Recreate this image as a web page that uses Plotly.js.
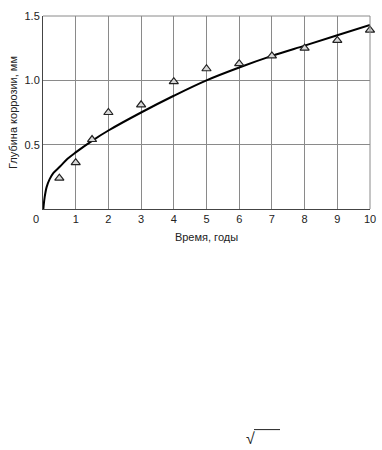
<!DOCTYPE html>
<html><head><meta charset="utf-8">
<script src="https://cdn.plot.ly/plotly-3.0.1.min.js"></script>
<style>html,body{margin:0;padding:0;background:#fff;}#chart{width:382px;height:450px;}</style>
</head><body><div id="chart"></div>
<script>
// Fitted curve
const curveT = [0.01, 0.05, 0.11, 0.2, 0.32, 0.52, 0.75, 1, 1.5, 2, 3, 4, 5, 6, 7, 8, 9, 10];
const curveDepth = [0, 0.09, 0.17, 0.23, 0.28, 0.33, 0.39, 0.44, 0.53, 0.61, 0.75, 0.88, 1.0, 1.10, 1.19, 1.27, 1.35, 1.43];
// Measured points
const measT = [0.5, 1, 1.5, 2, 3, 4, 5, 6, 7, 8, 9, 10];
const measDepth = [0.24, 0.36, 0.54, 0.75, 0.81, 0.99, 1.09, 1.13, 1.19, 1.25, 1.31, 1.39];
const xTicks = [0,1,2,3,4,5,6,7,8,9,10];
const xTickText = ['', '1','2','3','4','5','6','7','8','9','10'];
const yTicks = [0.5, 1.0, 1.5];
const yTickText = ['0.5', '1.0', '1.5'];

const traces = [
  {x: curveT, y: curveDepth, mode: 'lines', line: {color: '#000', width: 2, shape: 'spline'}, hoverinfo: 'skip'},
  {x: measT, y: measDepth, mode: 'markers', cliponaxis: false, marker: {symbol: 'triangle-up', size: 8, color: '#d8d8d8', line: {color: '#222', width: 1.2}}}
];
const layout = {
  width: 382, height: 450,
  margin: {l: 43, r: 12, t: 16, b: 241},
  paper_bgcolor: '#fff', plot_bgcolor: '#fff',
  showlegend: false,
  font: {family: 'Liberation Sans, Arial, sans-serif', size: 11, color: '#222'},
  xaxis: {range: [0, 10], tickvals: xTicks, ticktext: xTickText, showgrid: true, gridcolor: '#8a8a8a', gridwidth: 1,
    zeroline: false, showline: true, linecolor: '#444', linewidth: 1, mirror: false, ticks: '', ticklen: 0,
    title: {text: 'Время, годы', font: {size: 11}, standoff: 9}},
  yaxis: {range: [0, 1.5], tickvals: yTicks, ticktext: yTickText, showgrid: true, gridcolor: '#8a8a8a', gridwidth: 1,
    zeroline: false, showline: true, linecolor: '#444', linewidth: 1, ticks: '',
    title: {text: 'Глубина коррозии, мм', font: {size: 11}, standoff: 4}},
  shapes: [
    {type: 'line', xref: 'paper', yref: 'paper', x0: 1, x1: 1, y0: 0, y1: 1, line: {color: '#8a8a8a', width: 1}},
    {type: 'line', xref: 'paper', yref: 'paper', x0: 0, x1: 1, y0: 1, y1: 1, line: {color: '#8a8a8a', width: 1}},
    {type: 'line', xref: 'paper', yref: 'paper', x0: 0.6453, x1: 0.7248, y0: -1.143, y1: -1.143, line: {color: '#222', width: 1}}
  ],
  annotations: [
    {x: 0, y: 0, xref: 'x', yref: 'y', text: '0', showarrow: false, xanchor: 'right', yanchor: 'top', xshift: -2, yshift: -2, font: {size: 11}},
    {x: 0.615, y: -1.143, xref: 'paper', yref: 'paper', text: '√', showarrow: false, xanchor: 'left', yanchor: 'top', yshift: 2, font: {size: 16}}
  ]
};
Plotly.newPlot('chart', traces, layout, {displayModeBar: false, staticPlot: true});
</script></body></html>
